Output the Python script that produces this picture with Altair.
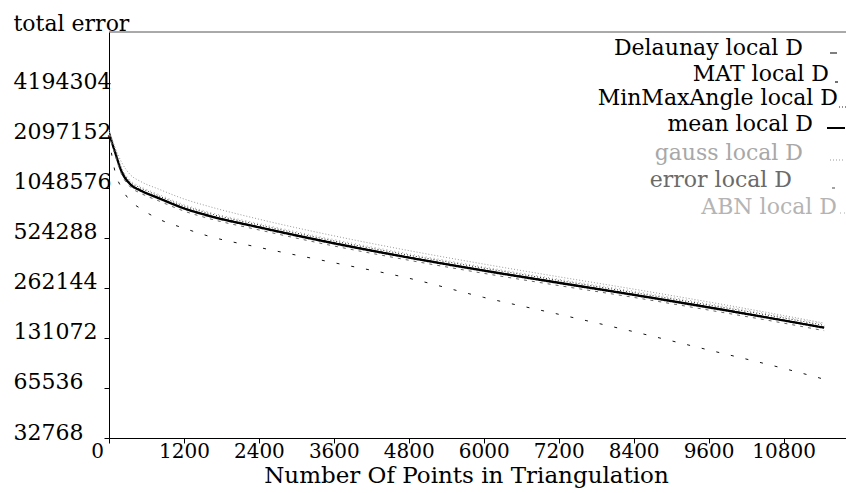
import altair as alt
import pandas as pd

# ---- data ----
points = [0, 100, 200, 350, 500, 800, 1200, 1600, 2400, 3600, 4800, 6000, 7200, 8400, 9600, 10800, 11450]

delaunay = [2260000, 1712000, 1330000, 1103000, 1022000, 915000, 796000, 718000, 612000, 491000, 402000, 336000, 284000, 240000, 202000, 168000, 152000]
mat = [2100000, 1300000, 1050000, 870000, 790000, 680000, 600000, 537000, 460000, 372000, 300000, 230000, 182000, 143000, 111000, 86000, 74000]
minmaxangle = [2270000, 1765000, 1365000, 1130000, 1050000, 938000, 817000, 736000, 628000, 503000, 413000, 345000, 291000, 246000, 207000, 173000, 156000]
mean = [2248000, 1703000, 1318000, 1093000, 1013000, 907000, 789000, 711000, 607000, 486000, 399000, 333000, 281000, 238000, 200000, 167000, 151000]
gauss = [2350000, 1820000, 1500000, 1250000, 1150000, 1030000, 900000, 811000, 680000, 540000, 440000, 365000, 306000, 258000, 216000, 179000, 161000]
error = [2220000, 1640000, 1270000, 1055000, 977000, 875000, 761000, 686000, 586000, 469000, 385000, 321000, 271000, 230000, 193000, 161000, 145000]
abn = [2280000, 1800000, 1395000, 1155000, 1070000, 957000, 833000, 750000, 640000, 513000, 421000, 351000, 296000, 251000, 211000, 176000, 159000]

series_names = ["Delaunay local D", "MAT local D", "MinMaxAngle local D", "mean local D",
                "gauss local D", "error local D", "ABN local D"]
series_values = [delaunay, mat, minmaxangle, mean, gauss, error, abn]

x_ticks = [0, 1200, 2400, 3600, 4800, 6000, 7200, 8400, 9600, 10800]
y_ticks = [32768, 65536, 131072, 262144, 524288, 1048576, 2097152, 4194304]

# ---- styles (not data) ----
FONT = "DejaVu Serif"
W, H = 737, 406
LEFT, TOP = 109, 32
styles = {
    "Delaunay local D":    dict(color="#000000", width=1.2, dash=[1, 0], text="#000000"),
    "MAT local D":         dict(color="#111111", width=1.0, dash=[3, 12], text="#000000"),
    "MinMaxAngle local D": dict(color="#222222", width=1.0, dash=[1, 2], text="#000000"),
    "mean local D":        dict(color="#000000", width=2.2, dash=[1, 0], text="#000000"),
    "gauss local D":       dict(color="#9a9a9a", width=1.0, dash=[1, 2], text="#a8a8a8"),
    "error local D":       dict(color="#666666", width=1.0, dash=[3, 5], text="#6a6a6a"),
    "ABN local D":         dict(color="#aaaaaa", width=1.0, dash=[1, 3], text="#b4b4b4"),
}
# legend placement in page pixels: right edge of text, baseline, sample x1, x2, sample y
legend_pos = {
    "Delaunay local D":    (803, 55, 830, 837, 53),
    "MAT local D":         (829, 81, 835, 838, 82),
    "MinMaxAngle local D": (838, 105, 839, 846, 107),
    "mean local D":        (813, 131, 827, 845, 128),
    "gauss local D":       (803, 160, 830, 845, 160),
    "error local D":       (792, 187, 832, 837, 188),
    "ABN local D":         (837, 214, 840, 845, 213),
}

x_enc = alt.X(
    "points:Q",
    scale=alt.Scale(domain=[0, 11800], nice=False, zero=False),
    axis=alt.Axis(
        values=x_ticks, format="d", grid=False,
        labelFont=FONT, labelFontSize=20, labelColor="black",
        labelBaseline="alphabetic", labelPadding=14, tickSize=5,
        labelFlush=False, labelOverlap=False,
        labelOffset={"condition": {"test": "datum.value == 0", "value": -12}, "value": 0},
        domainColor="black", tickColor="black",
        title="Number Of Points in Triangulation",
        titleFont=FONT, titleFontSize=23, titleFontWeight="normal", titleColor="black",
        titleX=357, titleY=44, titleBaseline="alphabetic", titleAlign="center",
    ),
)
y_enc = alt.Y(
    "value:Q",
    scale=alt.Scale(type="log", base=2, domain=[32768, 9100000], nice=False),
    axis=alt.Axis(
        values=y_ticks, format="d", grid=False,
        labelFont=FONT, labelFontSize=22, labelColor="black",
        labelAlign="left", labelBaseline="alphabetic", labelPadding=91, tickSize=5,
        labelFlush=False, labelOverlap=False, labelOffset=1,
        domainColor="black", tickColor="black",
        title="total error", titleFont=FONT, titleFontSize=22, titleFontWeight="normal",
        titleColor="black", titleAngle=0, titleX=-96, titleY=-2,
        titleAlign="left", titleBaseline="alphabetic",
    ),
)

layers = []
# top frame line
layers.append(
    alt.Chart(pd.DataFrame({"k": [0]})).mark_rule(color="#555555", strokeWidth=1).encode(
        x=alt.value(0), x2=alt.value(W), y=alt.value(0)
    )
)
for name, vals in zip(series_names, series_values):
    st = styles[name]
    df = pd.DataFrame({"points": points, "value": vals})
    layers.append(
        alt.Chart(df).mark_line(
            color=st["color"], strokeWidth=st["width"], strokeDash=st["dash"],
            interpolate="monotone", clip=True
        ).encode(x=x_enc, y=y_enc)
    )
for name in series_names:
    st = styles[name]
    rx, by, sx1, sx2, sy = legend_pos[name]
    ldf = pd.DataFrame({"label": [name]})
    layers.append(
        alt.Chart(ldf).mark_text(
            font=FONT, fontSize=22, color=st["text"], align="right", baseline="alphabetic"
        ).encode(text="label:N", x=alt.value(rx - LEFT), y=alt.value(by - TOP))
    )
    layers.append(
        alt.Chart(ldf).mark_rule(
            color=st["color"], strokeWidth=st["width"] if st["width"] > 1.5 else 1.2,
            strokeDash=st["dash"]
        ).encode(x=alt.value(sx1 - LEFT), x2=alt.value(sx2 - LEFT), y=alt.value(sy - TOP))
    )

chart = alt.layer(*layers).properties(
    width=W, height=H,
    autosize=alt.AutoSizeParams(type="none"),
    padding={"left": LEFT, "top": TOP, "right": 0, "bottom": 493 - TOP - H},
    background="white",
).configure_view(stroke=None)

chart.save("out.html", embed_options={"renderer": "svg", "actions": False})
